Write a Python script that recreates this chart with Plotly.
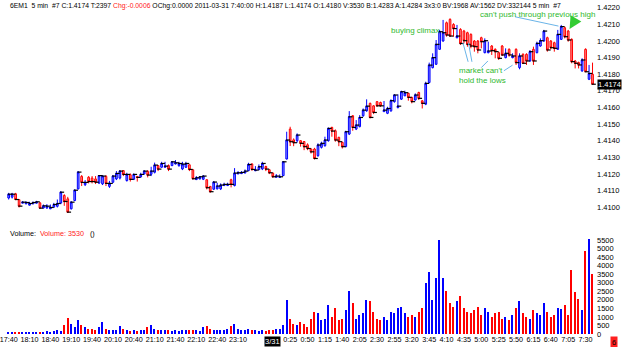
import plotly.graph_objects as go

open_ = [1.41055,1.41060,1.41080,1.41045,1.41024,1.41020,1.41012,1.41020,1.41024,1.41026,
 1.40995,1.40995,1.40990,1.41000,1.41005,1.41025,1.41070,1.41050,1.40990,1.41040,
 1.41110,1.41185,1.41135,1.41180,1.41175,1.41170,1.41145,1.41140,1.41185,1.41125,
 1.41150,1.41170,1.41175,1.41220,1.41160,1.41195,1.41168,1.41185,1.41182,1.41200,
 1.41215,1.41198,1.41210,1.41250,1.41240,1.41240,1.41250,1.41250,1.41260,1.41250,
 1.41230,1.41240,1.41255,1.41225,1.41166,1.41170,1.41168,1.41165,1.41125,1.41108,
 1.41110,1.41110,1.41130,1.41130,1.41165,1.41130,1.41200,1.41202,1.41206,1.41220,
 1.41260,1.41219,1.41226,1.41230,1.41245,1.41225,1.41205,1.41180,1.41179,1.41190,
 1.41290,1.41470,1.41405,1.41400,1.41400,1.41395,1.41375,1.41350,1.41350,1.41310,
 1.41360,1.41370,1.41400,1.41480,1.41460,1.41420,1.41390,1.41365,1.41440,1.41550,
 1.41470,1.41485,1.41550,1.41580,1.41625,1.41610,1.41635,1.41630,1.41575,1.41565,
 1.41580,1.41635,1.41600,1.41650,1.41670,1.41685,1.41660,1.41645,1.41690,1.41640,
 1.41620,1.41750,1.41840,1.41860,1.41950,1.42000,1.42110,1.42130,1.42100,1.42020,
 1.42070,1.42060,1.42050,1.42040,1.42000,1.42000,1.42020,1.41930,1.41930,1.41970,
 1.41950,1.41930,1.41970,1.41900,1.41950,1.41900,1.41950,1.41840,1.41920,1.41920,
 1.41880,1.41950,1.41930,1.41970,1.42000,1.42020,1.42000,1.41990,1.41950,1.42010,
 1.42080,1.42060,1.42010,1.41880,1.41870,1.41820,1.41950,1.41770,1.41800]
high = [1.41086,1.41086,1.41086,1.41046,1.41036,1.41036,1.41032,1.41034,1.41038,1.41028,
 1.41016,1.41018,1.41016,1.41026,1.41046,1.41096,1.41078,1.41062,1.41036,1.41107,
 1.41217,1.41193,1.41163,1.41187,1.41187,1.41187,1.41193,1.41193,1.41193,1.41158,
 1.41193,1.41217,1.41223,1.41223,1.41207,1.41203,1.41203,1.41187,1.41207,1.41223,
 1.41223,1.41243,1.41268,1.41253,1.41273,1.41273,1.41257,1.41277,1.41283,1.41273,
 1.41273,1.41273,1.41257,1.41227,1.41187,1.41187,1.41193,1.41167,1.41127,1.41157,
 1.41147,1.41143,1.41147,1.41147,1.41171,1.41235,1.41217,1.41217,1.41227,1.41267,
 1.41263,1.41247,1.41257,1.41273,1.41249,1.41229,1.41207,1.41199,1.41197,1.41277,
 1.41454,1.41484,1.41414,1.41444,1.41404,1.41398,1.41384,1.41353,1.41357,1.41384,
 1.41394,1.41424,1.41480,1.41484,1.41468,1.41424,1.41394,1.41460,1.41578,1.41554,
 1.41524,1.41554,1.41594,1.41649,1.41629,1.41614,1.41639,1.41635,1.41639,1.41604,
 1.41649,1.41681,1.41679,1.41701,1.41701,1.41689,1.41665,1.41685,1.41695,1.41645,
 1.41755,1.41870,1.41926,1.42006,1.42067,1.42127,1.42117,1.42137,1.42107,1.42097,
 1.42077,1.42067,1.42056,1.42046,1.42006,1.42006,1.42026,1.42016,1.41996,1.41976,
 1.41956,1.41936,1.41976,1.41956,1.41956,1.41926,1.41956,1.41926,1.41926,1.41926,
 1.41946,1.41966,1.41996,1.42016,1.42067,1.42026,1.42006,1.41996,1.42067,1.42097,
 1.42087,1.42067,1.42016,1.41886,1.41876,1.41896,1.41956,1.41856,1.41870]
low = [1.41046,1.41052,1.41042,1.40998,1.41022,1.41018,1.41010,1.41018,1.41022,1.40992,
 1.40992,1.40990,1.40988,1.40998,1.40998,1.41018,1.41008,1.40966,1.40986,1.41036,
 1.41107,1.41127,1.41127,1.41143,1.41143,1.41139,1.41139,1.41133,1.41127,1.41116,
 1.41146,1.41163,1.41167,1.41187,1.41154,1.41154,1.41163,1.41154,1.41179,1.41197,
 1.41179,1.41187,1.41203,1.41217,1.41237,1.41237,1.41217,1.41247,1.41257,1.41243,
 1.41223,1.41237,1.41217,1.41167,1.41163,1.41167,1.41163,1.41107,1.41087,1.41103,
 1.41107,1.41103,1.41127,1.41127,1.41119,1.41125,1.41199,1.41199,1.41203,1.41217,
 1.41219,1.41217,1.41223,1.41223,1.41217,1.41199,1.41177,1.41177,1.41177,1.41187,
 1.41287,1.41368,1.41367,1.41388,1.41364,1.41343,1.41343,1.41323,1.41287,1.41303,
 1.41353,1.41364,1.41394,1.41424,1.41394,1.41367,1.41353,1.41360,1.41434,1.41460,
 1.41464,1.41480,1.41544,1.41574,1.41534,1.41560,1.41604,1.41604,1.41574,1.41560,
 1.41574,1.41629,1.41594,1.41645,1.41669,1.41641,1.41625,1.41641,1.41645,1.41594,
 1.41614,1.41745,1.41835,1.41856,1.41946,1.41996,1.42026,1.42026,1.42026,1.42016,
 1.41976,1.41986,1.41966,1.41956,1.41936,1.41926,1.41956,1.41926,1.41926,1.41916,
 1.41896,1.41886,1.41910,1.41896,1.41906,1.41896,1.41856,1.41830,1.41862,1.41856,
 1.41876,1.41856,1.41926,1.41966,1.41996,1.41936,1.41950,1.41936,1.41946,1.42006,
 1.42016,1.41996,1.41866,1.41835,1.41835,1.41815,1.41815,1.41765,1.41740]
close = [1.41078,1.41078,1.41046,1.41006,1.41030,1.41028,1.41022,1.41028,1.41032,1.40994,
 1.41008,1.41006,1.40998,1.41016,1.41022,1.41090,1.41034,1.40970,1.41030,1.41102,
 1.41211,1.41149,1.41149,1.41154,1.41154,1.41150,1.41190,1.41187,1.41143,1.41143,
 1.41187,1.41203,1.41217,1.41197,1.41197,1.41167,1.41197,1.41179,1.41197,1.41217,
 1.41193,1.41217,1.41253,1.41229,1.41263,1.41247,1.41229,1.41273,1.41267,1.41263,
 1.41259,1.41263,1.41227,1.41171,1.41177,1.41183,1.41187,1.41117,1.41093,1.41151,
 1.41127,1.41133,1.41137,1.41137,1.41137,1.41205,1.41207,1.41209,1.41217,1.41257,
 1.41227,1.41223,1.41243,1.41263,1.41229,1.41207,1.41183,1.41187,1.41183,1.41273,
 1.41404,1.41394,1.41388,1.41434,1.41384,1.41364,1.41353,1.41333,1.41293,1.41374,
 1.41384,1.41404,1.41474,1.41458,1.41404,1.41394,1.41364,1.41454,1.41544,1.41480,
 1.41494,1.41540,1.41584,1.41608,1.41540,1.41570,1.41610,1.41610,1.41584,1.41594,
 1.41641,1.41675,1.41608,1.41695,1.41689,1.41661,1.41635,1.41675,1.41655,1.41625,
 1.41745,1.41855,1.41900,1.41980,1.42056,1.42050,1.42036,1.42030,1.42075,1.42030,
 1.41985,1.42002,1.41980,1.41970,1.41966,1.41946,1.41996,1.42002,1.41940,1.41942,
 1.41936,1.41896,1.41916,1.41926,1.41916,1.41910,1.41870,1.41910,1.41866,1.41880,
 1.41936,1.41880,1.41986,1.42002,1.42060,1.41946,1.41960,1.41956,1.42040,1.42087,
 1.42026,1.42006,1.41876,1.41866,1.41856,1.41886,1.41815,1.41805,1.41740]
volume = [100,80,120,100,80,100,80,120,100,120,
 80,180,120,150,250,150,500,950,600,400,
 800,500,400,300,300,200,400,700,300,250,
 250,200,450,300,200,150,200,150,250,200,
 400,500,300,200,250,200,250,150,200,150,
 200,200,250,250,200,150,400,450,300,250,
 200,250,200,300,450,600,300,200,250,300,
 200,200,150,200,150,200,250,300,300,500,
 2000,900,600,500,700,600,400,900,1300,1200,
 800,900,1700,1000,1500,800,900,1400,2500,1800,
 900,1100,1200,2000,1900,1300,900,800,1000,800,
 1300,1200,1500,1600,1200,1000,1100,1000,1300,1500,
 3000,3600,2000,3300,5500,3300,2500,1800,1600,1900,
 2200,1500,1300,1200,1400,1600,1100,1500,1300,1000,
 1200,1300,900,1000,800,1100,1500,1900,1200,1000,
 900,1400,1200,1100,1800,1300,1000,1100,1500,1450,
 1700,1100,3750,2450,2050,1400,4850,5550,3530]

x_tick_idx = [0, 6, 12, 18, 24, 30, 36, 42, 48, 54, 60, 66,
              81, 86, 91, 96, 101, 106, 111, 116, 121, 126, 131, 136, 141, 146, 151, 156, 161, 166]
x_tick_text = ['17:40', '18:10', '18:40', '19:10', '19:40', '20:10', '20:40', '21:10', '21:40', '22:10',
               '22:40', '23:10', '0:25', '0:50', '1:15', '1:40', '2:05', '2:30', '2:55', '3:20', '3:45',
               '4:10', '4:35', '5:00', '5:25', '5:50', '6:15', '6:40', '7:05', '7:30']
date_idx = 76
date_text = '3/31'
price_ticks = [1.4100, 1.4110, 1.4120, 1.4130, 1.4140, 1.4150, 1.4160, 1.4170,
               1.4180, 1.4190, 1.4200, 1.4210, 1.4220]
vol_ticks = [0, 500, 1000, 1500, 2000, 2500, 3000, 3500, 4000, 4500, 5000, 5500]
last_price = 1.4174
header = ('6EM1  5 min  #7 C:1.4174 T:2397 <span style="color:#ff2020">Chg:-0.0006</span> OChg:0.0000 '
          '2011-03-31 7:40:00 H:1.4187 L:1.4174 O:1.4180 V:3530 B:1.4283 A:1.4284 3x3:0 '
          'BV:1968 AV:1562 DV:332144 5 min  #7')

FONT = 'Liberation Sans, Arial, sans-serif'
BLUE, RED = '#0000ff', '#ff0000'
GREEN = '#2eb82e'
LINEBLUE = '#6ab4e8'

n = len(close)
xs = list(range(n))
vcolors = [BLUE if c >= o else RED for o, c in zip(open_, close)]

fig = go.Figure()
fig.add_trace(go.Candlestick(
    x=xs, open=open_, high=high, low=low, close=close,
    increasing=dict(line=dict(color=BLUE, width=1), fillcolor='#8a8aff'),
    decreasing=dict(line=dict(color=RED, width=1), fillcolor='#ff8a8a'),
    whiskerwidth=0, showlegend=False, hoverinfo='skip', xaxis='x', yaxis='y'))
fig.add_trace(go.Scatter(
    x=[i + 0.35 for i in xs], y=close, mode='markers',
    marker=dict(symbol='line-ew', size=3, line=dict(width=1.2, color='black')),
    showlegend=False, hoverinfo='skip', xaxis='x', yaxis='y'))
fig.add_trace(go.Bar(
    x=xs, y=volume, marker=dict(color=vcolors, line=dict(width=0)), width=0.4,
    showlegend=False, hoverinfo='skip', xaxis='x', yaxis='y2'))

ann = []
ann.append(dict(text=header, xref='paper', yref='paper', x=0.003, y=1.0, xanchor='left', yanchor='top',
                showarrow=False, font=dict(family=FONT, size=6.8, color='black')))
ann.append(dict(text='Volume:  <span style="color:#ff2020">Volume: 3530</span>   ()', xref='paper', yref='paper',
                x=0.003, y=0.30, xanchor='left', yanchor='middle', showarrow=False,
                font=dict(family=FONT, size=7.2, color='black')))
ann.append(dict(text=date_text, xref='x', yref='paper', x=date_idx, y=0, yanchor='top',
                yshift=-2, showarrow=False, bgcolor='black', borderpad=0,
                font=dict(family=FONT, size=7.5, color='white')))
ann.append(dict(text=f'{last_price:.4f}', xref='paper', yref='y', x=1, y=last_price, xanchor='left',
                xshift=1, showarrow=False, bgcolor='black', borderpad=0,
                font=dict(family=FONT, size=7.5, color='white')))
ann.append(dict(text='6', xref='paper', yref='paper', x=1, y=0, xanchor='center', yanchor='top',
                xshift=18, yshift=-2, showarrow=False, bgcolor='#ff2020', borderpad=1,
                font=dict(family=FONT, size=7.5, color='black')))
for txt, xi, yp in [('buying climax', 116.9, 1.42066),
                    ("can't push through previous high", 152.2, 1.42157),
                    ("market can't", 136.0, 1.41825),
                    ('hold the lows', 136.3, 1.41765)]:
    ann.append(dict(text=txt, xref='x', yref='y', x=xi, y=yp, showarrow=False,
                    font=dict(family=FONT, size=8, color=GREEN)))
ann.append(dict(text='', xref='x', yref='y', x=161.4, y=1.42072, axref='x', ayref='y',
                ax=163.3, ay=1.42139, showarrow=True, arrowhead=2, arrowsize=1,
                arrowwidth=2.5, arrowcolor='#33cc33'))

shapes = []
for x0, y0, x1, y1 in [(145.7, 1.42146, 158.2, 1.42090),
                       (130.7, 1.41990, 132.2, 1.41875),
                       (132.3, 1.41990, 133.3, 1.41875),
                       (136.0, 1.41840, 137.9, 1.41880),
                       (142.5, 1.41821, 145.0, 1.41855)]:
    shapes.append(dict(type='line', xref='x', yref='y', x0=x0, y0=y0, x1=x1, y1=y1,
                       line=dict(color=LINEBLUE, width=1)))

fig.update_layout(
    width=625, height=347, margin=dict(l=0, r=29, t=0, b=13),
    paper_bgcolor='white', plot_bgcolor='white', showlegend=False,
    bargap=0, boxgap=0.3,
    xaxis=dict(range=[-0.77, 169.0], anchor='y2', tickmode='array', tickvals=x_tick_idx,
               ticktext=x_tick_text, tickangle=0, showgrid=False, zeroline=False, showline=False,
               ticks='', rangeslider=dict(visible=False), ticklabeloverflow='allow',
               tickfont=dict(family=FONT, size=7.2, color='black')),
    yaxis=dict(domain=[0.341, 1.0], range=[1.40922, 1.42247], side='right', tickmode='array',
               tickvals=price_ticks, tickformat='.4f', showgrid=False, zeroline=False,
               showline=False, ticks='', tickfont=dict(family=FONT, size=7.5, color='black')),
    yaxis2=dict(domain=[0.0, 0.323], range=[0, 6320], side='right', tickmode='array',
                tickvals=vol_ticks, showgrid=False, zeroline=False, showline=False, ticks='',
                tickfont=dict(family=FONT, size=7.5, color='black')),
    annotations=ann, shapes=shapes,
)

fig.write_html('out.html')
